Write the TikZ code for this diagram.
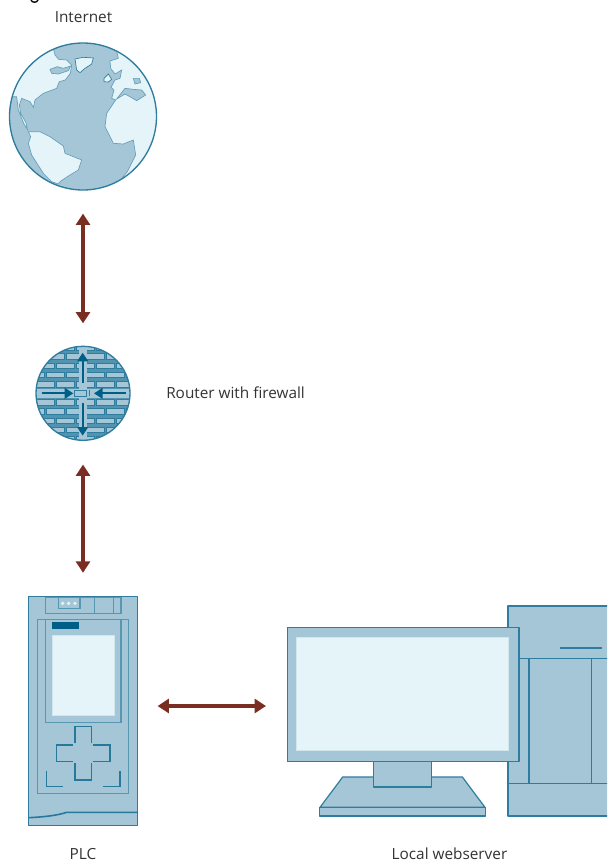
\documentclass[tikz,border=0pt]{standalone}
\usepackage{fontspec}
\setmainfont{Open Sans}
\usetikzlibrary{arrows.meta}
\definecolor{edgeblue}{HTML}{2E7D9E}
\definecolor{deepblue}{HTML}{005F87}
\definecolor{midblue}{HTML}{A5C6D6}
\definecolor{paleblue}{HTML}{E5F4F9}
\definecolor{arrowred}{HTML}{7A2E22}
\definecolor{labelgrey}{HTML}{333333}
\tikzset{
  part/.style={draw=edgeblue,fill=midblue,line width=.9pt,line join=round},
  softline/.style={draw=edgeblue!65!midblue,line width=.8pt},
  screenface/.style={fill=paleblue,draw=paleblue!70!midblue,line width=.5pt},
  keyline/.style={draw=edgeblue!85!deepblue,line width=1.2pt},
  label/.style={text=labelgrey,font=\fontsize{11.5pt}{14pt}\selectfont,inner sep=0pt},
  link/.style={draw=arrowred,line width=2.4pt,{Triangle[length=8.5pt,width=10.5pt]}-{Triangle[length=8.5pt,width=10.5pt]}},
  zoomed/.style 2 args={xshift=#1*.75pt,yshift=-#2*.75pt,x=.25pt,y=-.25pt},
  flowarrow/.style={draw=deepblue,line width=1.5pt,-{Triangle[length=6.5pt,width=8pt]}},
  coast/.style={draw=edgeblue!55!midblue,line width=.5pt},
}
\begin{document}
\begin{tikzpicture}[x=.75pt,y=-.75pt]
\useasboundingbox (0,0) rectangle (607,864);
\clip (0,0) rectangle (607,864);
% Anchors
\node[circle,minimum size=110.25pt,inner sep=0pt,fill=midblue] (internet) at (83,116.5) {};
\node[circle,minimum size=70.5pt,inner sep=0pt,fill=edgeblue!70!midblue] (router) at (83,393.3) {};
\node[rectangle,minimum width=82pt,minimum height=171.75pt,inner sep=0pt,part] (plc) at (83,711.2) {};
% Globe
\begin{scope}
\clip (83,116.5) circle (73.5);
\begin{scope}[zoomed={0}{0}]
\path[fill=paleblue,coast]
 (160,145)--(165,165)--(176,178)--(200,180)--(215,195)--(211,220)--(196,240)--(178,245)--(170,265)--(130,280)--(105,300)--(100,322)--(90,305)--(65,295)--(58,315)--(62,340)--(78,368)--(82,388)--(72,372)--(55,330)--(50,290)--(20,290)--(20,100)--(160,100)--cycle;
\path[fill=midblue,coast]
 (150,208)--(172,200)--(190,205)--(212,198)--(205,212)--(175,222)--(155,220)--cycle;
\path[fill=paleblue,draw=edgeblue,line width=.5pt]
 (225,177)--(250,172)--(280,174)--(275,192)--(255,205)--(240,218)--(230,210)--cycle;
\path[fill=paleblue,coast]
 (85,395)--(120,395)--(150,410)--(190,438)--(195,460)--(245,480)--(235,510)--(205,528)--(180,545)--(175,552)--(155,545)--(130,520)--(95,465)--(85,430)--(92,410)--cycle;
\path[fill=paleblue,coast]
 (350,153)--(355,175)--(330,183)--(332,205)--(345,222)--(365,210)--(360,235)--(345,240)--(333,262)--(342,270)--(335,295)--(347,300)--(320,340)--(315,380)--(340,430)--(370,432)--(400,420)--(407,465)--(382,515)--(368,532)--(500,570)--(500,100)--(350,100)--cycle;
\path[fill=midblue,coast]
 (350,297)--(375,265)--(400,268)--(425,270)--(437,285)--(410,302)--(390,290)--(375,282)--cycle;
\path[fill=midblue,coast]
 (400,235)--(418,235)--(422,248)--(405,252)--cycle;
\path[fill=paleblue,draw=edgeblue,line width=.5pt]
 (312,235)--(325,222)--(335,238)--(325,246)--(312,245)--cycle;
\end{scope}
\end{scope}
\draw[edgeblue,line width=1pt] (83,116.5) circle (73.5);
% Router
\begin{scope}
\clip (83,393.3) circle (47);
\begin{scope}[zoomed={20}{340}]
\foreach \r [evaluate=\r as \yy using 50+27.5*\r, evaluate=\r as \off using {mod(\r,2)==0 ? 20 : 50}] in {-1,0,...,9} {
  \foreach \c in {-1,0,...,5} {
    \path[fill=midblue,draw=edgeblue,line width=.6pt]
      ({\off+\c*60},{\yy-8.5}) rectangle ({\off+\c*60+52},{\yy+8.5});
  }
}
\fill[midblue] (176,20) rectangle (202,300);
\fill[midblue] (48,148) rectangle (330,174);
\draw[edgeblue,line width=.6pt,fill=midblue] (162,151) rectangle (200,169);
\draw[edgeblue,line width=.6pt] (207,151)--(207,169);
\draw[flowarrow] (188,130)--(188,38);
\draw[flowarrow] (188,190)--(188,287);
\draw[flowarrow] (65,160)--(160,160);
\draw[flowarrow] (318,160)--(222,160);
\end{scope}
\end{scope}
\draw[edgeblue,line width=1pt] (router) circle (47);
% PLC
\begin{scope}[zoomed={15}{590}]
\draw[softline] (92,22) rectangle (318,70);
\draw[softline] (238,22)--(238,70) (295,22)--(295,70);
\path[fill=midblue,draw=edgeblue!65!midblue,line width=.8pt] (130,22) rectangle (195,55);
\fill[paleblue] (143,40) circle (5.5) (161,40) circle (5.5) (180,40) circle (5.5);
\draw[softline] (68,88) rectangle (340,610);
\draw[softline] (92,88) rectangle (318,398);
\fill[deepblue] (112,95) rectangle (192,116);
\path[screenface] (112,136) rectangle (298,375);
\draw[keyline] (180,460)--(180,410)--(230,410)--(230,460);
\draw[keyline] (175,465)--(125,465)--(125,515)--(175,515);
\draw[keyline] (235,465)--(285,465)--(285,515)--(235,515);
\draw[keyline] (180,520)--(180,570)--(230,570)--(230,520);
\draw[keyline] (95,542)--(95,590)--(143,590);
\draw[keyline] (265,590)--(315,590)--(315,542);
\draw[keyline] (42,683)..controls (100,680) and (130,675) ..(155,667)--(368,667);
\end{scope}
% Computer
\begin{scope}[zoomed={280}{600}]
\path[part] (684,18) rectangle (1100,648);
\draw[part] (715,175)--(1100,175) (684,550)--(1100,550) (747,175)--(747,550) (934,175)--(934,550);
\draw[part,line width=1.1pt] (840,144)--(965,144);
\path[part] (188,531)--(547,531)--(615,622)--(120,622)--cycle;
\path[part] (118,622) rectangle (616,648);
\path[part] (280,483) rectangle (455,561);
\node[rectangle,part,minimum width=173.75pt,minimum height=100.5pt,inner sep=0pt,anchor=north west] (monitor) at (20,81) {};
\path[screenface] (50,112) rectangle (685,452);
\end{scope}
% Labels
\node[label] (inetlabel) at (83.5,17) {Internet};
\node[label,anchor=west] (routerlabel) at (166,393) {Router with firewall};
\node[label] (plclabel) at (83,854) {PLC};
\node[label] (weblabel) at (449.5,854) {Local webserver};
\draw[black,line width=1pt] (31,0) .. controls (32,3) and (37,3) .. (38,0);
% Connectors
\draw[link,shorten <=17.5pt,shorten >=17pt] (internet.south) -- (router.north);
\draw[link,shorten <=18pt,shorten >=17.5pt] (router.south) -- (plc.north);
\coordinate (plcport) at (plc.east |- 0,706);
\coordinate (webport) at (monitor.west |- 0,706);
\draw[link,shorten <=14.5pt,shorten >=15.5pt] (plcport) -- (webport);
\end{tikzpicture}
\end{document}
